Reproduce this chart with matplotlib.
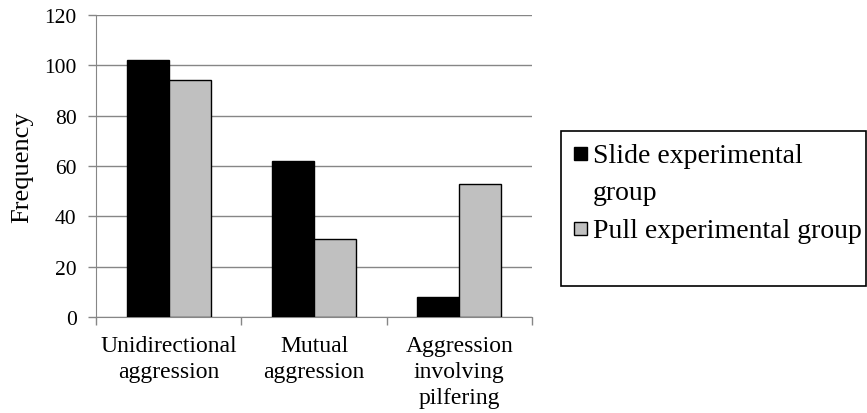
import matplotlib.pyplot as plt
import numpy as np
from matplotlib.patches import Rectangle

categories = ["Unidirectional\naggression", "Mutual\naggression", "Aggression\ninvolving\npilfering"]
slide_values = [102, 62, 8]
pull_values = [94, 31, 53]
series_labels = ["Slide experimental\ngroup", "Pull experimental group"]
series_colors = ["black", "#c0c0c0"]
y_ticks = [0, 20, 40, 60, 80, 100, 120]

plt.rcParams["font.family"] = ["Liberation Serif", "DejaVu Serif"]

W, H = 867, 414
fig = plt.figure(figsize=(W / 100, H / 100), dpi=100)
ax = fig.add_axes([96 / W, 1 - 318 / H, (532 - 96) / W, (318 - 16) / H])

x = np.arange(len(categories))
width = 0.29
ax.bar(x - width / 2, slide_values, width, color=series_colors[0], edgecolor="black", linewidth=1, zorder=3)
ax.bar(x + width / 2, pull_values, width, color=series_colors[1], edgecolor="black", linewidth=1, zorder=3)

ax.set_xlim(-0.5, len(categories) - 0.5)
ax.set_ylim(0, 120)
ax.set_yticks(y_ticks)
ax.set_yticklabels([str(v) for v in y_ticks], fontsize=15.5)
ax.yaxis.grid(True, color="#868686", linewidth=1, zorder=0)

ax.set_xticks(np.arange(len(categories) + 1) - 0.5)
ax.set_xticklabels([])
ax.set_xticks(x, minor=True)
ax.set_xticklabels(categories, minor=True, fontsize=17, linespacing=1.3)
ax.tick_params(axis="x", which="minor", length=0, pad=13)
ax.tick_params(axis="x", which="major", length=6, color="#868686", width=1, direction="out")
ax.tick_params(axis="y", length=6, color="#868686", width=1, direction="out", pad=8)

for side in ["top", "right"]:
    ax.spines[side].set_visible(False)
ax.spines["left"].set_color("#868686")
ax.spines["bottom"].set_color("#868686")

ax.set_ylabel("Frequency", fontsize=19, labelpad=8)


def fx(px):
    return px / W


def fy(py):
    return 1 - py / H


# legend drawn by hand, Excel style: box, square swatches next to the first line
fig.patches.append(Rectangle((fx(561), fy(287)), fx(866) - fx(561), fy(132) - fy(287),
                             transform=fig.transFigure, fill=False, edgecolor="black", linewidth=1.2))
entry_tops = [148, 223]
line_gap = 37
for label, color, top in zip(series_labels, series_colors, entry_tops):
    fig.patches.append(Rectangle((fx(574), fy(top + 13)), fx(13), fy(0) - fy(13),
                                 transform=fig.transFigure, facecolor=color, edgecolor="black", linewidth=1))
    for i, line in enumerate(label.split("\n")):
        fig.text(fx(593), fy(top + 15 + i * line_gap), line, fontsize=20, va="baseline", ha="left")

fig.savefig("out.png", dpi=100)
